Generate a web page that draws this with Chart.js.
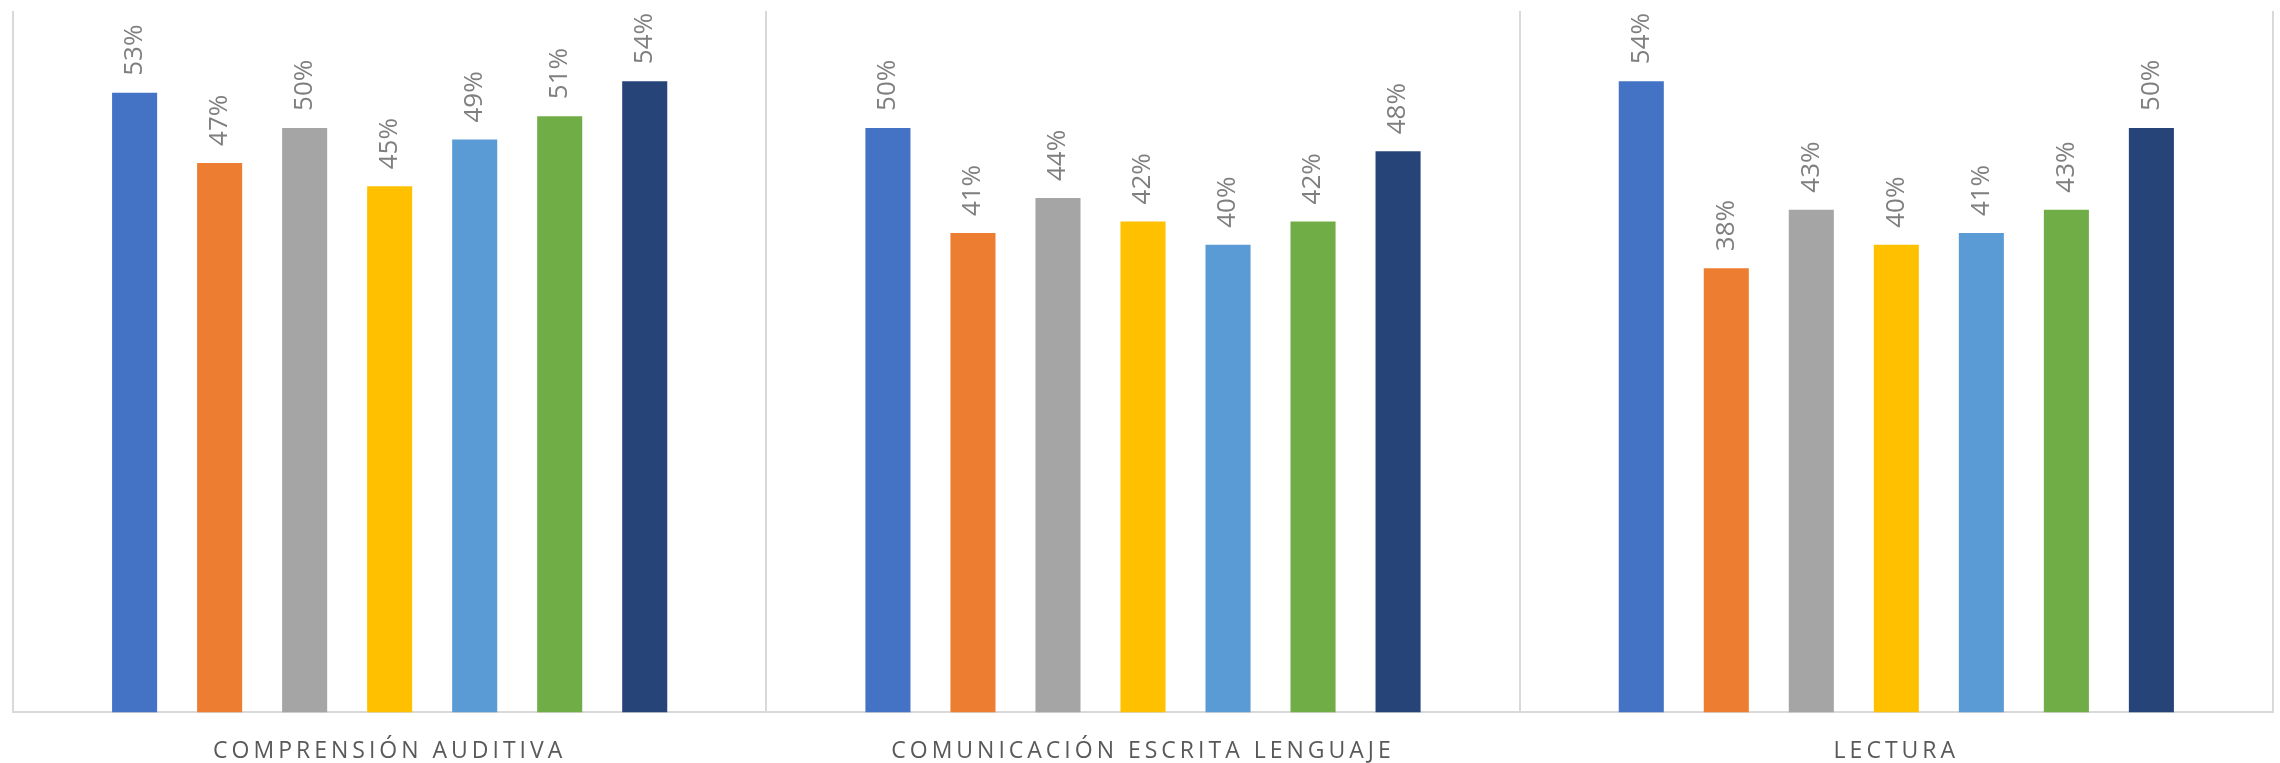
<!DOCTYPE html>
<html>
<head>
<meta charset="utf-8">
<script src="https://cdn.jsdelivr.net/npm/chart.js@4.4.1/dist/chart.umd.min.js"></script>
<style>
  html, body { margin: 0; padding: 0; background: #fff; }
  #wrap { width: 2280px; height: 763px; }
</style>
</head>
<body>
<div id="wrap"><canvas id="chart"></canvas></div>
<script>
const categories = ["COMPRENSIÓN AUDITIVA", "COMUNICACIÓN ESCRITA LENGUAJE", "LECTURA"];

// one array per series, values per category (percent)
const serie1 = [53, 50, 54];
const serie2 = [47, 41, 38];
const serie3 = [50, 44, 43];
const serie4 = [45, 42, 40];
const serie5 = [49, 40, 41];
const serie6 = [51, 42, 43];
const serie7 = [54, 48, 50];

const seriesNames = ["Serie 1", "Serie 2", "Serie 3", "Serie 4", "Serie 5", "Serie 6", "Serie 7"];
const seriesData = [serie1, serie2, serie3, serie4, serie5, serie6, serie7];
const colors = ["#4472C4", "#ED7D31", "#A5A5A5", "#FFC000", "#5B9BD5", "#70AD47", "#264478"];

// rotated value labels above each bar
const barLabels = {
  id: "barLabels",
  afterDatasetsDraw(chart) {
    const ctx = chart.ctx;
    ctx.save();
    ctx.letterSpacing = "0px";
    ctx.font = "26px 'Open Sans'";
    ctx.fillStyle = "#7f7f7f";
    ctx.textAlign = "left";
    ctx.textBaseline = "middle";
    chart.data.datasets.forEach((ds, i) => {
      const meta = chart.getDatasetMeta(i);
      meta.data.forEach((bar, j) => {
        ctx.save();
        ctx.translate(bar.x, bar.y - 17);
        ctx.rotate(-Math.PI / 2);
        ctx.fillText(ds.data[j] + "%", 0, 0);
        ctx.restore();
      });
    });
    ctx.restore();
  }
};

const spacing = {
  id: "spacing",
  beforeDraw(chart) { chart.ctx.letterSpacing = "4px"; },
  afterDraw(chart) { chart.ctx.letterSpacing = "0px"; }
};

new Chart(document.getElementById("chart"), {
  type: "bar",
  data: {
    labels: categories,
    datasets: seriesData.map((d, i) => ({
      label: seriesNames[i],
      data: d,
      backgroundColor: colors[i],
      borderWidth: 0,
      categoryPercentage: 0.79,
      barPercentage: 0.53
    }))
  },
  options: {
    responsive: true,
    maintainAspectRatio: false,
    animation: false,
    layout: { padding: { left: 13, right: 7, top: 11, bottom: -27 } },
    plugins: {
      legend: { display: false },
      tooltip: { enabled: false }
    },
    scales: {
      x: {
        grid: { offset: true, color: "#d9d9d9", lineWidth: 2, drawTicks: false },
        border: { display: true, color: "#d9d9d9", width: 2 },
        ticks: {
          color: "#595959",
          font: { family: "'Open Sans'", size: 23 },
          padding: 25,
          maxRotation: 0
        }
      },
      y: {
        display: false,
        min: 0,
        max: 60
      }
    }
  },
  plugins: [barLabels, spacing]
});
</script>
</body>
</html>
